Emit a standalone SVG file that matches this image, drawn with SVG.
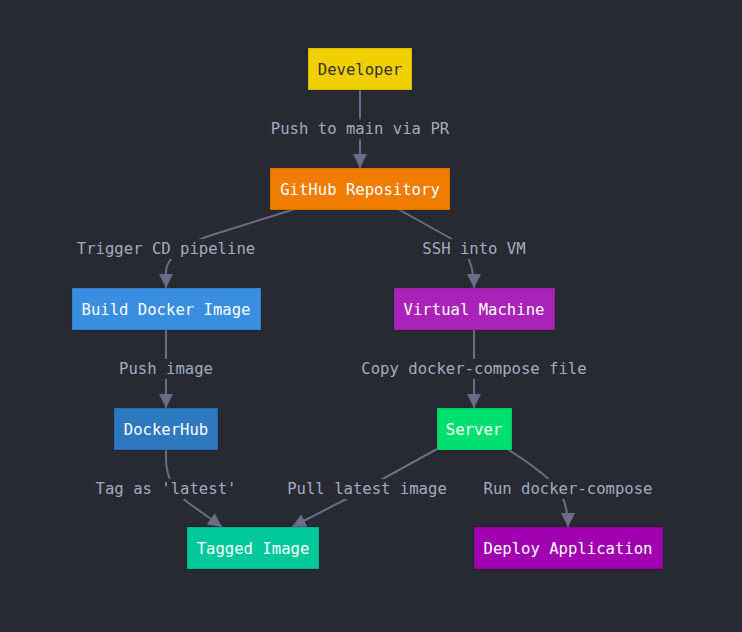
<svg xmlns="http://www.w3.org/2000/svg" width="742" height="632" viewBox="0 0 742 632">
<style>
.bg{fill:#282a33}
.node rect{stroke:#00000030;stroke-width:1}
.node text{font-family:"DejaVu Sans Mono",monospace;font-size:15.6px;text-anchor:middle;dominant-baseline:central;fill:#ffffff}
.edge{fill:none;stroke:#6b6d88;stroke-width:2;marker-end:url(#arr)}
.lbl rect{fill:#282a33}
.lbl text{font-family:"DejaVu Sans Mono",monospace;font-size:15.6px;text-anchor:middle;dominant-baseline:central;fill:#a3aac0}
</style>
<defs>
<marker id="arr" markerUnits="userSpaceOnUse" markerWidth="14" markerHeight="14" viewBox="0 0 14 14" refX="14" refY="7" orient="auto">
<path d="M0,0 L14,7 L0,14 z" fill="#6b6d88"/>
</marker>
</defs>
<rect class="bg" x="0" y="0" width="742" height="632"/>
<g id="connectors">
<path class="edge" d="M360,90 L360,168"/>
<path class="edge" d="M295,209 L215,234 Q170,248 166,270 L166,288"/>
<path class="edge" d="M398,209 L450,238 Q474,252 474,288"/>
<path class="edge" d="M166,329 L166,408"/>
<path class="edge" d="M474,329 L474,408"/>
<path class="edge" d="M166,449 L166,460 Q167,488 190,504 L222,527"/>
<path class="edge" d="M437,449 L352,496 L292,527"/>
<path class="edge" d="M507,449 Q535,466 553,483 Q568,498 568,527"/>
</g>
<g id="labels">
<g class="lbl"><rect x="269" y="119" width="182" height="20"/><text x="360" y="129">Push to main via PR</text></g>
<g class="lbl"><rect x="76" y="239" width="181" height="20"/><text x="166" y="249">Trigger CD pipeline</text></g>
<g class="lbl"><rect x="421" y="239" width="106" height="20"/><text x="474" y="249">SSH into VM</text></g>
<g class="lbl"><rect x="118" y="359" width="96" height="20"/><text x="166" y="369">Push image</text></g>
<g class="lbl"><rect x="360" y="359" width="228" height="20"/><text x="474" y="369">Copy docker-compose file</text></g>
<g class="lbl"><rect x="94" y="479" width="144" height="20"/><text x="166" y="489">Tag as 'latest'</text></g>
<g class="lbl"><rect x="286" y="479" width="162" height="20"/><text x="367" y="489">Pull latest image</text></g>
<g class="lbl"><rect x="482" y="479" width="172" height="20"/><text x="568" y="489">Run docker-compose</text></g>
</g>
<g id="developer" class="node"><rect x="308" y="48" width="104" height="42" fill="#f0d000"/><text x="360" y="69.5" style="fill:#333333">Developer</text></g>
<g id="github" class="node"><rect x="270" y="168" width="180" height="42" fill="#f07c00"/><text x="360" y="189.5">GitHub Repository</text></g>
<g id="build" class="node"><rect x="72" y="288" width="189" height="42" fill="#3a8ee0"/><text x="166" y="309.5">Build Docker Image</text></g>
<g id="vm" class="node"><rect x="394" y="288" width="161" height="42" fill="#a923b8"/><text x="474" y="309.5">Virtual Machine</text></g>
<g id="dockerhub" class="node"><rect x="114" y="408" width="104" height="42" fill="#2e78c0"/><text x="166" y="429.5">DockerHub</text></g>
<g id="server" class="node"><rect x="437" y="408" width="75" height="42" fill="#00e070"/><text x="474" y="429.5">Server</text></g>
<g id="tagged" class="node"><rect x="187" y="527" width="132" height="42" fill="#00c89a"/><text x="253" y="548.5">Tagged Image</text></g>
<g id="deploy" class="node"><rect x="474" y="527" width="189" height="42" fill="#a000b0"/><text x="568" y="548.5">Deploy Application</text></g>
</svg>
